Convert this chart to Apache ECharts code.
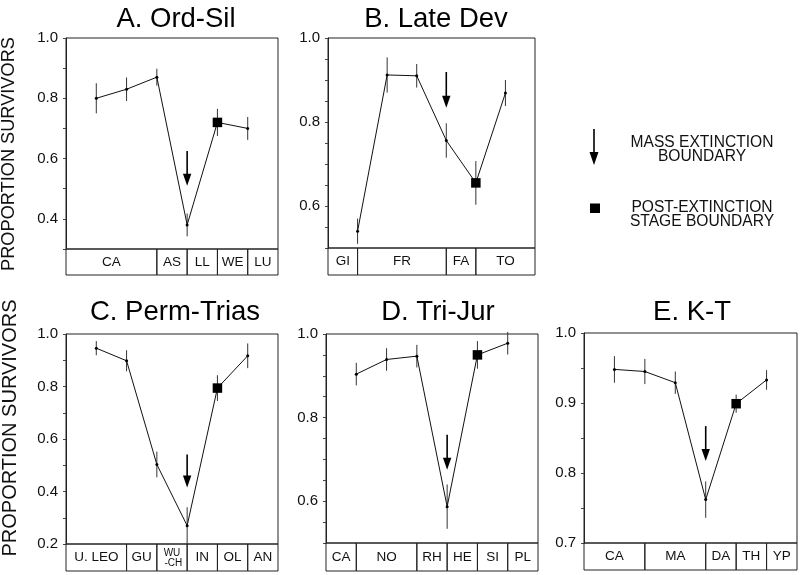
<!DOCTYPE html>
<html>
<head>
<meta charset="utf-8">
<script src="https://cdn.jsdelivr.net/npm/echarts@6/dist/echarts.min.js"></script>
<style>
  html, body { margin:0; padding:0; background:#fff; }
  #chart { width:800px; height:575px; }
</style>
</head>
<body>
<div id="chart"></div>
<script>
// ---------------- DATA ----------------
const xPos = [1, 2, 3, 4, 5, 6];

const valuesA = [0.80, 0.83, 0.87, 0.38, 0.72, 0.70];
const errA    = [0.050, 0.039, 0.028, 0.038, 0.045, 0.038];
const stagesA = ['CA', 'AS', 'LL', 'WE', 'LU'];
const edgesA  = [0, 3, 4, 5, 6, 7];
const ticksA  = ['0.4', '0.6', '0.8', '1.0'];
const arrowA  = [4, 0.625, 0.51];

const valuesB = [0.54, 0.912, 0.91, 0.756, 0.655, 0.869];
const errB    = [0.030, 0.042, 0.028, 0.041, 0.052, 0.031];
const stagesB = ['GI', 'FR', 'FA', 'TO'];
const edgesB  = [0, 1, 4, 5, 7];
const ticksB  = ['0.6', '0.8', '1.0'];
const arrowB  = [4, 0.919, 0.834];

const valuesC = [0.946, 0.898, 0.503, 0.27, 0.794, 0.917];
const errC    = [0.027, 0.040, 0.049, 0.070, 0.049, 0.047];
const stagesC = ['U. LEO', 'GU', 'WU\n -CH', 'IN', 'OL', 'AN'];
const edgesC  = [0, 2, 3, 4, 5, 6, 7];
const ticksC  = ['0.2', '0.4', '0.6', '0.8', '1.0'];
const arrowC  = [4, 0.541, 0.415];

const valuesD = [0.904, 0.939, 0.947, 0.587, 0.95, 0.978];
const errD    = [0.027, 0.027, 0.027, 0.053, 0.033, 0.027];
const stagesD = ['CA', 'NO', 'RH', 'HE', 'SI', 'PL'];
const edgesD  = [0, 1, 3, 4, 5, 6, 7];
const ticksD  = ['0.6', '0.8', '1.0'];
const arrowD  = [4, 0.759, 0.675];

const valuesE = [0.948, 0.945, 0.929, 0.762, 0.899, 0.933];
const errE    = [0.019, 0.018, 0.016, 0.026, 0.013, 0.014];
const stagesE = ['CA', 'MA', 'DA', 'TH', 'YP'];
const edgesE  = [0, 2, 4, 5, 6, 7];
const ticksE  = ['0.7', '0.8', '0.9', '1.0'];
const arrowE  = [4, 0.867, 0.817];

const squareIndex = 4; // post-extinction stage boundary point

const titles = ['A. Ord-Sil', 'B. Late Dev', 'C. Perm-Trias', 'D. Tri-Jur', 'E. K-T'];
const yName = 'PROPORTION SURVIVORS';
const legendTexts = ['MASS EXTINCTION\nBOUNDARY', 'POST-EXTINCTION\nSTAGE BOUNDARY'];

// ---------------- LAYOUT ----------------
const FONT = '"Liberation Sans", Arial, Helvetica, sans-serif';
const INK = '#111';

const panels = [
  { values: valuesA, err: errA, names: stagesA, edges: edgesA, ticks: ticksA, arrow: arrowA,
    min: 0.3, step: 0.1,  left: 66,  top: 38,  width: 212, height: 211, band: 26, titleX: 171, titleTop: 0 },
  { values: valuesB, err: errB, names: stagesB, edges: edgesB, ticks: ticksB, arrow: arrowB,
    min: 0.5, step: 0.05, left: 328, top: 38,  width: 207, height: 210, band: 27, titleX: 431, titleTop: 0 },
  { values: valuesC, err: errC, names: stagesC, edges: edgesC, ticks: ticksC, arrow: arrowC,
    min: 0.2, step: 0.1,  left: 66,  top: 334, width: 212, height: 210, band: 27, titleX: 170, titleTop: 293 },
  { values: valuesD, err: errD, names: stagesD, edges: edgesD, ticks: ticksD, arrow: arrowD,
    min: 0.5, step: 0.05, left: 326, top: 334, width: 212, height: 209, band: 28, titleX: 433, titleTop: 293 },
  { values: valuesE, err: errE, names: stagesE, edges: edgesE, ticks: ticksE, arrow: arrowE,
    min: 0.7, step: 0.05, left: 584, top: 333, width: 213, height: 210, band: 27, titleX: 687, titleTop: 293 }
];

const grid = [], xAxis = [], yAxis = [], series = [], title = [];

panels.forEach((p, k) => {
  const gi = 2 * k, bi = 2 * k + 1;
  grid.push({ left: p.left, top: p.top, width: p.width, height: p.height,
              show: true, borderColor: '#222', borderWidth: 1, backgroundColor: 'transparent' });
  grid.push({ left: p.left, top: p.top + p.height, width: p.width, height: p.band,
              show: false });
  xAxis.push({ gridIndex: gi, type: 'value', min: 0, max: 7, show: false });
  xAxis.push({ gridIndex: bi, type: 'value', min: 0, max: 7, show: false });
  yAxis.push({
    gridIndex: gi, type: 'value', min: p.min, max: 1.0, interval: p.step,
    axisLine: { show: true, lineStyle: { color: '#222', width: 1 } },
    axisTick: { show: true, length: 3, lineStyle: { color: '#444', width: 1 } },
    splitLine: { show: false },
    axisLabel: {
      margin: 8, fontSize: 15, color: INK, fontFamily: FONT,
      formatter: (v) => {
        const s = v.toFixed(1);
        return (Math.abs(v - parseFloat(s)) < 1e-6 && p.ticks.includes(s)) ? s : '';
      }
    }
  });
  yAxis.push({ gridIndex: bi, type: 'value', min: 0, max: 1, show: false });

  title.push({
    text: titles[k], left: p.titleX, top: p.titleTop, textAlign: 'center',
    textStyle: { fontSize: 27.5, fontWeight: 'normal', color: '#000', fontFamily: FONT }
  });

  // error bars
  series.push({
    type: 'custom', xAxisIndex: gi, yAxisIndex: gi, z: 2,
    data: xPos.map((x, i) => [x, p.values[i] - p.err[i], p.values[i] + p.err[i]]),
    renderItem: (params, api) => {
      const a = api.coord([api.value(0), api.value(1)]);
      const b = api.coord([api.value(0), api.value(2)]);
      return { type: 'line', shape: { x1: a[0], y1: a[1], x2: b[0], y2: b[1] },
               style: { stroke: '#333', lineWidth: 1 } };
    }
  });
  // main line
  series.push({
    type: 'line', xAxisIndex: gi, yAxisIndex: gi, z: 3,
    data: xPos.map((x, i) => [x, p.values[i]]),
    symbol: 'circle', symbolSize: 3, showSymbol: true,
    itemStyle: { color: '#000' },
    lineStyle: { color: '#111', width: 1 }
  });
  // post-extinction square
  series.push({
    type: 'scatter', xAxisIndex: gi, yAxisIndex: gi, z: 4,
    data: [[xPos[squareIndex], p.values[squareIndex]]],
    symbol: 'rect', symbolSize: 9.5, itemStyle: { color: '#000', opacity: 1 }
  });
  // mass extinction arrow
  series.push({
    type: 'custom', xAxisIndex: gi, yAxisIndex: gi, z: 5,
    data: [p.arrow],
    renderItem: (params, api) => {
      const a = api.coord([api.value(0), api.value(1)]);
      const b = api.coord([api.value(0), api.value(2)]);
      const head = 12, hw = 4.2;
      return { type: 'group', children: [
        { type: 'line', shape: { x1: a[0], y1: a[1], x2: b[0], y2: b[1] - head + 2 },
          style: { stroke: '#000', lineWidth: 1.6 } },
        { type: 'polygon', shape: { points: [[b[0] - hw, b[1] - head], [b[0] + hw, b[1] - head], [b[0], b[1]]] },
          style: { fill: '#000' } }
      ] };
    }
  });
  // stage band
  series.push({
    type: 'custom', xAxisIndex: bi, yAxisIndex: bi, z: 2,
    data: p.names.map((n, i) => [p.edges[i], p.edges[i + 1]]),
    renderItem: (params, api) => {
      const a = api.coord([api.value(0), 0]);
      const b = api.coord([api.value(1), 1]);
      const name = p.names[params.dataIndex];
      const two = name.indexOf('\n') >= 0;
      return { type: 'group', children: [
        { type: 'rect', shape: { x: a[0], y: b[1], width: b[0] - a[0], height: a[1] - b[1] },
          style: { fill: 'none', stroke: '#222', lineWidth: 1 } },
        { type: 'text', style: {
            text: name, x: (a[0] + b[0]) / 2, y: (a[1] + b[1]) / 2 + (two ? 1 : 0),
            textAlign: 'center', textVerticalAlign: 'middle',
            fontSize: two ? 10 : 13.5, lineHeight: two ? 10 : 14, fontFamily: FONT, fill: INK } }
      ] };
    }
  });
});

const graphic = [
  // y-axis names
  { type: 'text', x: 9, y: 154, rotation: Math.PI / 2,
    style: { text: yName, textAlign: 'center', textVerticalAlign: 'middle', fontSize: 18.2, fontFamily: FONT, fill: INK } },
  { type: 'text', x: 10, y: 428, rotation: Math.PI / 2,
    style: { text: yName, textAlign: 'center', textVerticalAlign: 'middle', fontSize: 20, fontFamily: FONT, fill: INK } },
  // legend: arrow
  { type: 'line', shape: { x1: 594, y1: 129, x2: 594, y2: 155 }, style: { stroke: '#000', lineWidth: 1.6 } },
  { type: 'polygon', shape: { points: [[589.5, 152], [598.5, 152], [594, 165]] }, style: { fill: '#000' } },
  { type: 'text', x: 702, y: 149.5,
    style: { text: legendTexts[0], textAlign: 'center', textVerticalAlign: 'middle', fontSize: 15.6, lineHeight: 14.3, fontFamily: FONT, fill: INK } },
  // legend: square
  { type: 'rect', shape: { x: 590, y: 203.5, width: 10, height: 9.5 }, style: { fill: '#000' } },
  { type: 'text', x: 702, y: 215,
    style: { text: legendTexts[1], textAlign: 'center', textVerticalAlign: 'middle', fontSize: 15.6, lineHeight: 14.3, fontFamily: FONT, fill: INK } }
];

const chart = echarts.init(document.getElementById('chart'), null, { renderer: 'canvas' });
chart.setOption({
  animation: false,
  backgroundColor: '#fff',
  title, grid, xAxis, yAxis, series, graphic
});
</script>
</body>
</html>
